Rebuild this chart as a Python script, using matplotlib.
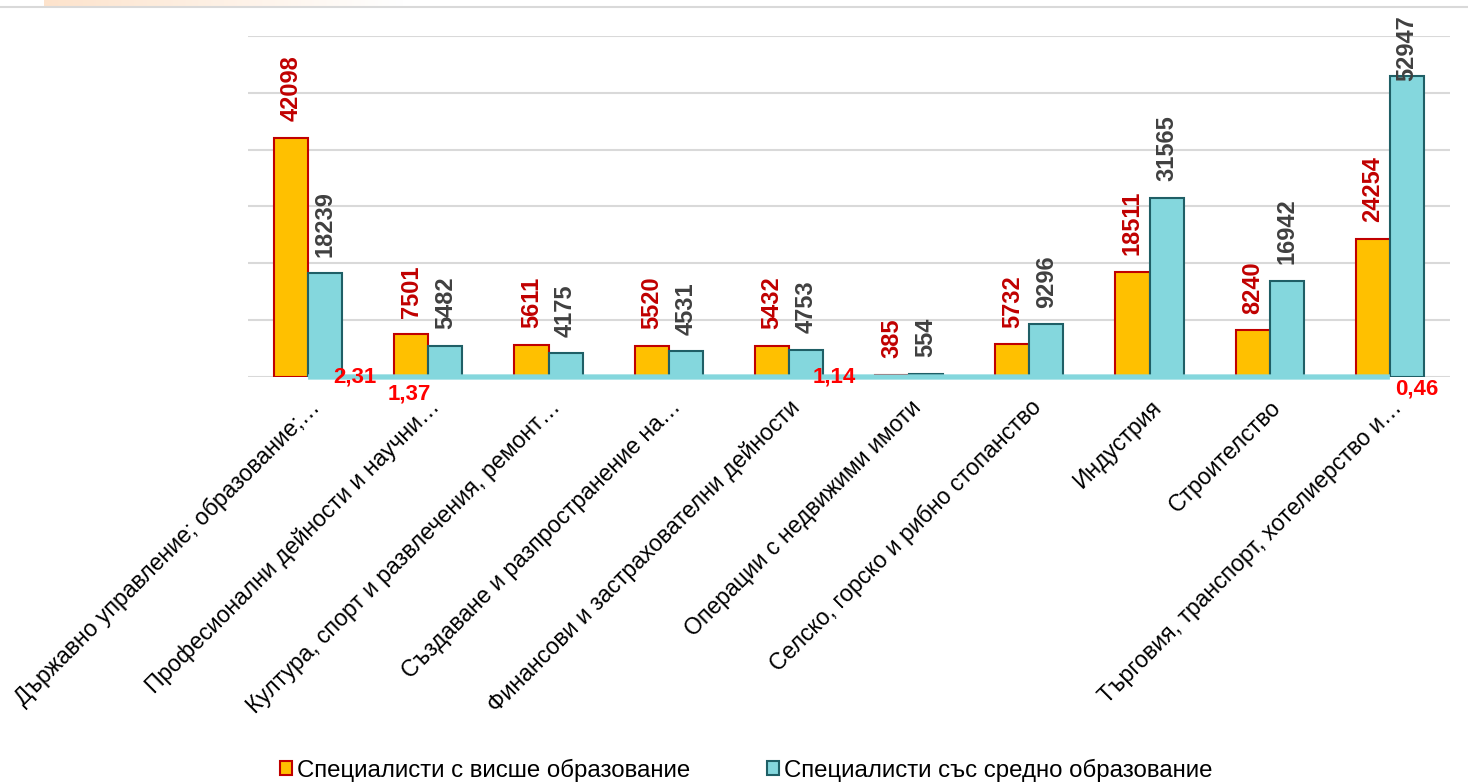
import numpy as np
import matplotlib
matplotlib.use("Agg")
import matplotlib.pyplot as plt
from matplotlib.lines import Line2D
from matplotlib.colors import LinearSegmentedColormap

plt.rcParams["font.family"] = ["Liberation Sans", "DejaVu Sans"]

categories = [
    "Държавно управление; образование;…",
    "Професионални дейности и научни…",
    "Култура, спорт и развлечения, ремонт…",
    "Създаване и разпространение на…",
    "Финансови и застрахователни дейности",
    "Операции с недвижими имоти",
    "Селско, горско и рибно стопанство",
    "Индустрия",
    "Строителство",
    "Търговия, транспорт, хотелиерство и…",
]
higher_ed = [42098, 7501, 5611, 5520, 5432, 385, 5732, 18511, 8240, 24254]
secondary_ed = [18239, 5482, 4175, 4531, 4753, 554, 9296, 31565, 16942, 52947]
ratio = [2.31, 1.37, 1.34, 1.22, 1.14, 0.69, 0.62, 0.59, 0.49, 0.46]
# only these ratio labels are visible in the original
ratio_shown = [0, 1, 4, 9]
ratio_offsets = {0: (34, 0), 1: (-14, -12), 4: (33, 0), 9: (19, -9)}  # points

legend_labels = ["Специалисти с висше образование", "Специалисти със средно образование"]

ORANGE, ORANGE_EDGE = "#FFC000", "#C00000"
CYAN, CYAN_EDGE = "#84D7DD", "#1F5F66"

fig = plt.figure(figsize=(14.68, 7.83), dpi=100)
ax = fig.add_axes([248 / 1468, 1 - 377 / 783, (1450 - 248) / 1468, (377 - 36) / 783])

x = np.arange(len(categories))
w = 0.283
b1 = ax.bar(x - w / 2, higher_ed, w, color=ORANGE, edgecolor=ORANGE_EDGE, linewidth=1.5,
            label=legend_labels[0], zorder=3)
b2 = ax.bar(x + w / 2, secondary_ed, w, color=CYAN, edgecolor=CYAN_EDGE, linewidth=1.5,
            label=legend_labels[1], zorder=3)
ax.plot(x, ratio, color=CYAN, linewidth=3.8, zorder=4, clip_on=False, solid_capstyle="butt")

ax.set_xlim(-0.5, len(categories) - 0.5)
ax.set_ylim(0, 60000)
ax.set_yticks(np.arange(0, 60001, 10000))
ax.yaxis.grid(True, color="#D9D9D9", linewidth=1.5, zorder=0)
ax.set_axisbelow(True)
ax.tick_params(axis="y", left=False, labelleft=False)
ax.tick_params(axis="x", bottom=False, pad=10)
for s in ax.spines.values():
    s.set_visible(False)

ax.set_xticks(x)
ax.set_xticklabels(categories, rotation=45, ha="right", va="top",
                   rotation_mode="anchor", fontsize=16.6)

labels = []
for bars, color in ((b1, "#C00000"), (b2, "#404040")):
    for rect in bars:
        h = rect.get_height()
        t = ax.annotate(f"{int(h)}", (rect.get_x() + rect.get_width() / 2, h),
                        xytext=(0, 12), textcoords="offset points",
                        rotation=90, ha="center", va="bottom",
                        fontsize=17, fontweight="bold", color=color,
                        annotation_clip=False, zorder=5)
        labels.append(t)

for i in ratio_shown:
    dx, dy = ratio_offsets[i]
    ax.annotate(f"{ratio[i]:.2f}".replace(".", ","), (x[i], ratio[i]),
                xytext=(dx, dy), textcoords="offset points",
                ha="center", va="center", fontsize=16, fontweight="bold",
                color="#FF0000", annotation_clip=False, zorder=6)

leg = fig.legend(handles=[b1, b2], labels=legend_labels, loc="center",
                 bbox_to_anchor=(746 / 1468, 1 - 770 / 783), ncol=2, frameon=False,
                 fontsize=17.3, handlelength=0.5, handleheight=0.5,
                 handletextpad=0.2, columnspacing=3.2)

# thin top border and faint header gradient
fig.add_artist(Line2D([0, 1], [1 - 6.5 / 783] * 2, transform=fig.transFigure,
                      color="#D9D9D9", linewidth=1.5))
gax = fig.add_axes([44 / 1468, 1 - 6 / 783, 360 / 1468, 6 / 783])
cmap = LinearSegmentedColormap.from_list("peach", ["#FDE3CC", "#FFFFFF"])
gax.imshow(np.linspace(0, 1, 256)[None, :], aspect="auto", cmap=cmap)
gax.axis("off")

# keep value labels inside the figure (like the original, the tallest gets pushed down)
fig.canvas.draw()
limit = fig.bbox.height - 15
for t in labels:
    bb = t.get_window_extent()
    if bb.y1 > limit:
        shift = (bb.y1 - limit) * 72 / fig.dpi
        t.xyann = (t.xyann[0], t.xyann[1] - shift)

fig.savefig("out.png", dpi=100)
